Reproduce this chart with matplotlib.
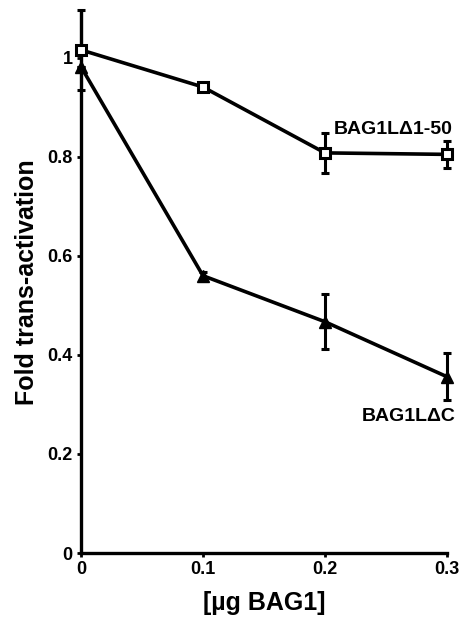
import numpy as np
import matplotlib
matplotlib.use("Agg")
import matplotlib.pyplot as plt

plt.rcParams['font.family'] = ['Liberation Sans', 'DejaVu Sans']
plt.rcParams['font.weight'] = 'bold'

# data
dose = [0, 0.1, 0.2, 0.3]
sq_vals = [1.016, 0.941, 0.808, 0.805]
sq_err = [0.08, 0.008, 0.04, 0.028]
tri_vals = [0.982, 0.56, 0.467, 0.356]
tri_err = [0.0, 0.008, 0.056, 0.048]

fig = plt.figure(figsize=(4.68, 6.19), dpi=100)
ax = fig.add_axes([0.173, 0.1066, 0.782, 0.8744])

ax.errorbar(dose, sq_vals, yerr=sq_err, color='black', lw=2.6, marker='s',
            ms=6.5, mfc='white', mec='black', mew=2.2, capsize=3, capthick=2.2,
            elinewidth=2.2, clip_on=False, zorder=3)
ax.errorbar(dose, tri_vals, yerr=tri_err, color='black', lw=2.6, marker='^',
            ms=8, mfc='black', mec='black', capsize=3, capthick=2.2,
            elinewidth=2.2, clip_on=False, zorder=3)

ax.text(0.207, 0.855, 'BAG1LΔ1-50', fontsize=14, fontweight='bold', ha='left', va='center')
ax.text(0.307, 0.275, 'BAG1LΔC', fontsize=14, fontweight='bold', ha='right', va='center')

ax.set_xlim(0, 0.3)
ax.set_ylim(0, 1.093)
ax.set_xticks([0, 0.1, 0.2, 0.3])
ax.set_xticklabels(['0', '0.1', '0.2', '0.3'])
ax.set_yticks([0, 0.2, 0.4, 0.6, 0.8, 1.0])
ax.set_yticklabels(['0', '0.2', '0.4', '0.6', '0.8', '1'])

for s in ['top', 'right']:
    ax.spines[s].set_visible(False)
for s in ['left', 'bottom']:
    ax.spines[s].set_linewidth(2.4)

ax.tick_params(direction='out', length=3, width=2, labelsize=13, pad=3)
for lab in ax.get_xticklabels() + ax.get_yticklabels():
    lab.set_fontweight('bold')

ax.set_xlabel('[µg BAG1]', fontsize=18, fontweight='bold', labelpad=9)
ax.set_ylabel('Fold trans-activation', fontsize=18, fontweight='bold', labelpad=6)

fig.savefig('out.png', dpi=100)
